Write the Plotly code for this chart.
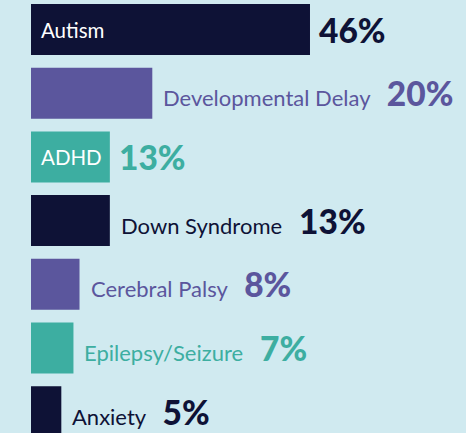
import plotly.graph_objects as go

categories = ["Autism", "Developmental Delay", "ADHD", "Down Syndrome",
              "Cerebral Palsy", "Epilepsy/Seizure", "Anxiety"]
values = [46, 20, 13, 13, 8, 7, 5]
value_labels = ["46%", "20%", "13%", "13%", "8%", "7%", "5%"]
label_inside = [True, False, True, False, False, False, False]

NAVY = "#0e1236"
PURPLE = "#5b569d"
TEAL = "#3daea1"
BG = "#d0eaf0"
bar_colors = [NAVY, PURPLE, TEAL, NAVY, PURPLE, TEAL, NAVY]

LABEL_FONT = "Lato"
VALUE_FONT = "Lato"
INSIDE_SIZE = 20.5
LABEL_SIZE = 22
VALUE_SIZE = 33.5

ypos = list(range(len(categories)))

fig = go.Figure(go.Bar(
    x=values, y=ypos, orientation="h",
    marker=dict(color=bar_colors, line=dict(width=0)),
    width=0.8, hoverinfo="skip",
))

annotations = []
for i, (cat, v, vl, inside, col) in enumerate(zip(categories, values, value_labels, label_inside, bar_colors)):
    val_span = (f"<span style='font-family:{VALUE_FONT};font-size:{VALUE_SIZE}px;"
                f"font-weight:900'>{vl}</span>")
    if inside:
        annotations.append(dict(x=0, y=i, xref="x", yref="y", text=cat, showarrow=False,
                                xanchor="left", yanchor="middle", xshift=8,
                                font=dict(family=LABEL_FONT, size=INSIDE_SIZE, color="white")))
        annotations.append(dict(x=v, y=i, xref="x", yref="y", text=val_span, showarrow=False,
                                xanchor="left", yanchor="middle", xshift=7,
                                font=dict(family=VALUE_FONT, size=VALUE_SIZE, color=col)))
    else:
        annotations.append(dict(x=v, y=i, xref="x", yref="y",
                                text=f"{cat}&nbsp;&nbsp;&nbsp;{val_span}", showarrow=False,
                                xanchor="left", yanchor="middle", xshift=9,
                                font=dict(family=LABEL_FONT, size=LABEL_SIZE, color=col)))

px_per_unit = 6.065
left_px = 31
pitch = 63.7
first_center = 29.5

fig.update_layout(
    width=466, height=433,
    margin=dict(l=0, r=0, t=0, b=0),
    paper_bgcolor=BG, plot_bgcolor=BG,
    showlegend=False,
    xaxis=dict(range=[-left_px / px_per_unit, (466 - left_px) / px_per_unit],
               visible=False, fixedrange=True),
    yaxis=dict(range=[(433 - first_center) / pitch, -first_center / pitch],
               visible=False, fixedrange=True),
    annotations=annotations,
    bargap=0.2,
)

fig.write_html("out.html", config={"displayModeBar": False},
               post_script="document.body.style.margin='0';document.body.style.background='%s';" % BG)
